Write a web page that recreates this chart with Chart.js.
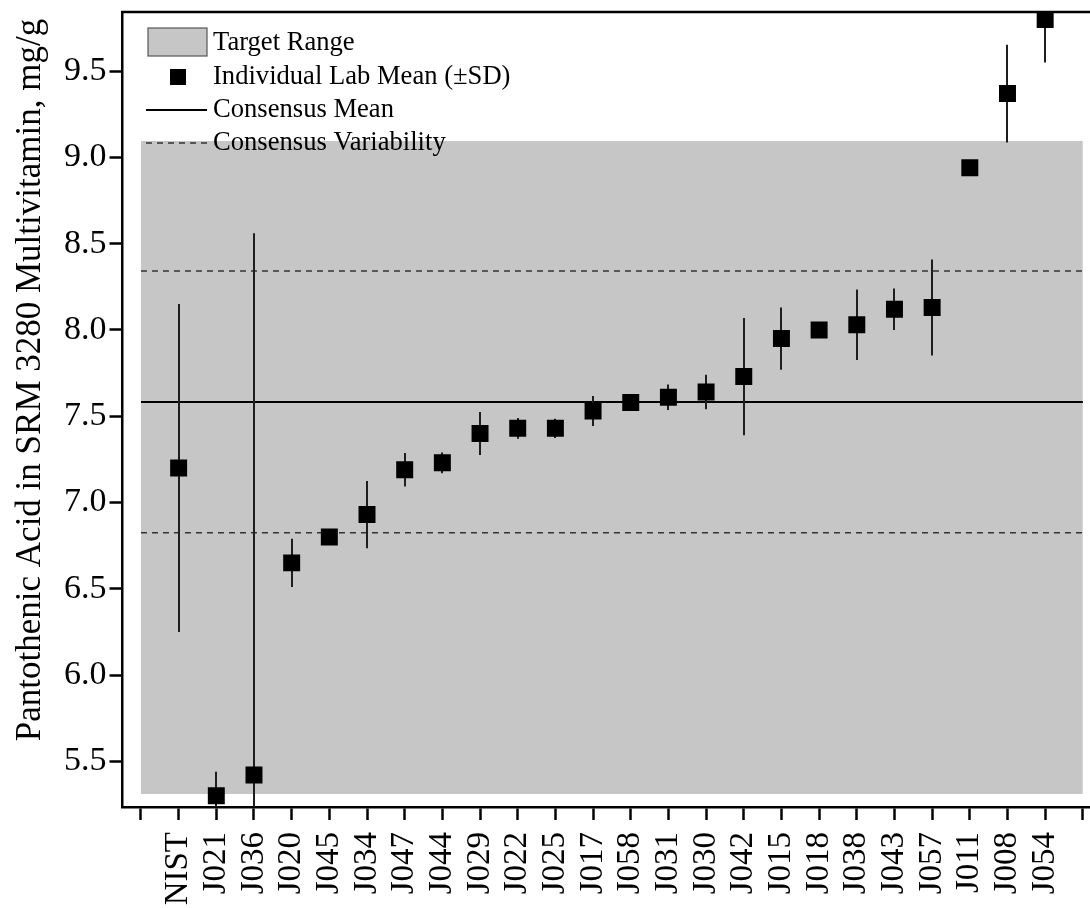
<!DOCTYPE html>
<html>
<head>
<meta charset="utf-8">
<script src="https://cdn.jsdelivr.net/npm/chart.js@4.4.1/dist/chart.umd.min.js"></script>
<style>
  html, body { margin: 0; padding: 0; background: #fff; }
  #wrap { width: 1090px; height: 908px; position: relative; }
</style>
</head>
<body>
<div id="wrap"><canvas id="c"></canvas></div>
<script>
// Participating laboratories, ordered by reported mean
const labs = ['NIST', 'J021', 'J036', 'J020', 'J045', 'J034', 'J047', 'J044', 'J029', 'J022', 'J025', 'J017',
              'J058', 'J031', 'J030', 'J042', 'J015', 'J018', 'J038', 'J043', 'J057', 'J011', 'J008', 'J054'];
// Lab mean, mg/g
const labMeans = [7.20, 5.30, 5.42, 6.65, 6.80, 6.93, 7.19, 7.23, 7.40, 7.43, 7.43, 7.53,
                  7.58, 7.61, 7.64, 7.73, 7.95, 8.00, 8.03, 8.12, 8.13, 8.94, 9.37, 9.80];
// Lab standard deviation, mg/g
const labSD = [0.95, 0.14, 3.14, 0.14, 0.02, 0.195, 0.097, 0.06, 0.125, 0.06, 0.056, 0.087,
               0.02, 0.074, 0.10, 0.34, 0.18, 0.02, 0.204, 0.12, 0.278, 0.02, 0.283, 0.25];
// Consensus statistics and target range
const consensusMean = 7.583;
const consensusVar = 0.759;
const targetLow = 5.31;
const targetHigh = 9.095;
// Axis tick values
const yTicks = [5.5, 6.0, 6.5, 7.0, 7.5, 8.0, 8.5, 9.0, 9.5];
const xTicks = [0, 1, 2, 3, 4, 5, 6, 7, 8, 9, 10, 11, 12, 13, 14, 15, 16, 17, 18, 19, 20, 21, 22, 23, 24, 25];

const SERIF = '"Liberation Serif", "Times New Roman", serif';
const GREY = '#c6c6c6';
const spanStart = xTicks[0];
const spanEnd = xTicks[xTicks.length - 1];

// Vertical ±SD bars behind the lab-mean squares
const errorBars = {
  id: 'errorBars',
  beforeDatasetDraw(chart, args) {
    if (args.index !== 0) return;
    const { ctx, chartArea, scales: { x, y } } = chart;
    ctx.save();
    ctx.beginPath();
    ctx.rect(chartArea.left, chartArea.top, chartArea.right - chartArea.left, chartArea.bottom - chartArea.top);
    ctx.clip();
    ctx.strokeStyle = '#1e1e1e';
    ctx.lineWidth = 2;
    labMeans.forEach((m, i) => {
      const px = Math.round(x.getPixelForValue(i + 1));
      ctx.beginPath();
      ctx.moveTo(px, y.getPixelForValue(m - labSD[i]));
      ctx.lineTo(px, y.getPixelForValue(m + labSD[i]));
      ctx.stroke();
    });
    ctx.restore();
  }
};

// Top frame line, legend and rotated y-axis title
const decorations = {
  id: 'decorations',
  afterDraw(chart) {
    const { ctx, chartArea } = chart;
    ctx.save();
    ctx.strokeStyle = '#000';
    ctx.lineWidth = 2.5;
    ctx.beginPath();
    ctx.moveTo(chartArea.left - 1.25, chartArea.top);
    ctx.lineTo(chartArea.right, chartArea.top);
    ctx.stroke();

    // legend
    const lx = 146, rx = 207, tx = 213;
    ctx.font = '26.6px ' + SERIF;
    ctx.textBaseline = 'middle';
    ctx.textAlign = 'left';

    ctx.fillStyle = GREY;
    ctx.fillRect(148, 28, 59, 28);
    ctx.strokeStyle = '#555';
    ctx.lineWidth = 1.2;
    ctx.strokeRect(148, 28, 59, 28);
    ctx.fillStyle = '#000';
    ctx.fillText('Target Range', tx, 43);

    ctx.fillRect(170, 69, 16, 16);
    ctx.fillText('Individual Lab Mean (\u00B1SD)', tx, 77);

    ctx.strokeStyle = '#000';
    ctx.lineWidth = 2;
    ctx.beginPath();
    ctx.moveTo(lx, 110); ctx.lineTo(rx, 110);
    ctx.stroke();
    ctx.fillText('Consensus Mean', tx, 110);

    ctx.strokeStyle = '#333';
    ctx.lineWidth = 1.5;
    ctx.setLineDash([6, 5]);
    ctx.beginPath();
    ctx.moveTo(lx, 143); ctx.lineTo(rx, 143);
    ctx.stroke();
    ctx.setLineDash([]);
    ctx.fillText('Consensus Variability', tx, 143);

    // y-axis title
    ctx.translate(31, 380);
    ctx.rotate(-Math.PI / 2);
    ctx.textAlign = 'center';
    ctx.font = '35px ' + SERIF;
    ctx.fillText('Pantothenic Acid in SRM 3280 Multivitamin, mg/g', 0, 0);
    ctx.restore();
  }
};

const hLine = (value, opts) => Object.assign({
  type: 'line',
  data: [{ x: spanStart, y: value }, { x: spanEnd, y: value }],
  pointRadius: 0,
  borderColor: '#000',
  borderWidth: 2,
  fill: false,
  clip: 0,
  order: 1
}, opts);

new Chart(document.getElementById('c'), {
  type: 'scatter',
  data: {
    datasets: [
      {
        label: 'Individual Lab Mean (\u00B1SD)',
        data: labs.map((l, i) => ({ x: i + 1, y: labMeans[i] })),
        pointStyle: 'rect',
        pointRadius: 12,
        pointHoverRadius: 12,
        backgroundColor: '#000',
        borderColor: '#000',
        borderWidth: 0,
        clip: 0,
        order: 0
      },
      hLine(consensusMean, { label: 'Consensus Mean' }),
      hLine(consensusMean + consensusVar, { label: 'Consensus Variability', borderDash: [6, 5], borderWidth: 1.5, borderColor: '#333' }),
      hLine(consensusMean - consensusVar, { label: 'Consensus Variability (low)', borderDash: [6, 5], borderWidth: 1.5, borderColor: '#333' }),
      hLine(targetHigh, { label: 'Target Range', borderWidth: 0, borderColor: GREY, backgroundColor: GREY, fill: { value: targetLow }, order: 2 })
    ]
  },
  options: {
    responsive: true,
    maintainAspectRatio: false,
    animation: false,
    events: [],
    layout: { autoPadding: false, padding: { top: 12, left: 0, right: 0, bottom: 0 } },
    plugins: {
      legend: { display: false },
      tooltip: { enabled: false },
      filler: { propagate: false }
    },
    scales: {
      x: {
        type: 'linear',
        min: -0.49,
        max: 25.19,
        afterBuildTicks: s => { s.ticks = xTicks.map(v => ({ value: v })); },
        ticks: {
          autoSkip: false,
          minRotation: 90,
          maxRotation: 90,
          padding: 12,
          color: '#000',
          font: { family: SERIF, size: 33 },
          callback: v => labs[v - 1] || ''
        },
        grid: { drawOnChartArea: false, drawTicks: true, tickLength: 13, tickWidth: 2.5, tickColor: '#000' },
        border: { display: true, color: '#000', width: 2.5 },
        afterFit: s => { s.height = 101; s.paddingLeft = 0; s.paddingRight = 0; }
      },
      y: {
        type: 'linear',
        min: 5.235,
        max: 9.843,
        afterBuildTicks: s => { s.ticks = yTicks.map(v => ({ value: v })); },
        ticks: {
          padding: 3,
          color: '#000',
          font: { family: SERIF, size: 34 },
          callback: v => Number(v).toFixed(1)
        },
        grid: { drawOnChartArea: false, drawTicks: true, tickLength: 13, tickWidth: 2.5, tickColor: '#000' },
        border: { display: true, color: '#000', width: 2.5 },
        afterFit: s => { s.width = 122.5; s.paddingTop = 0; s.paddingBottom = 0; }
      }
    }
  },
  plugins: [errorBars, decorations]
});
</script>
</body>
</html>
